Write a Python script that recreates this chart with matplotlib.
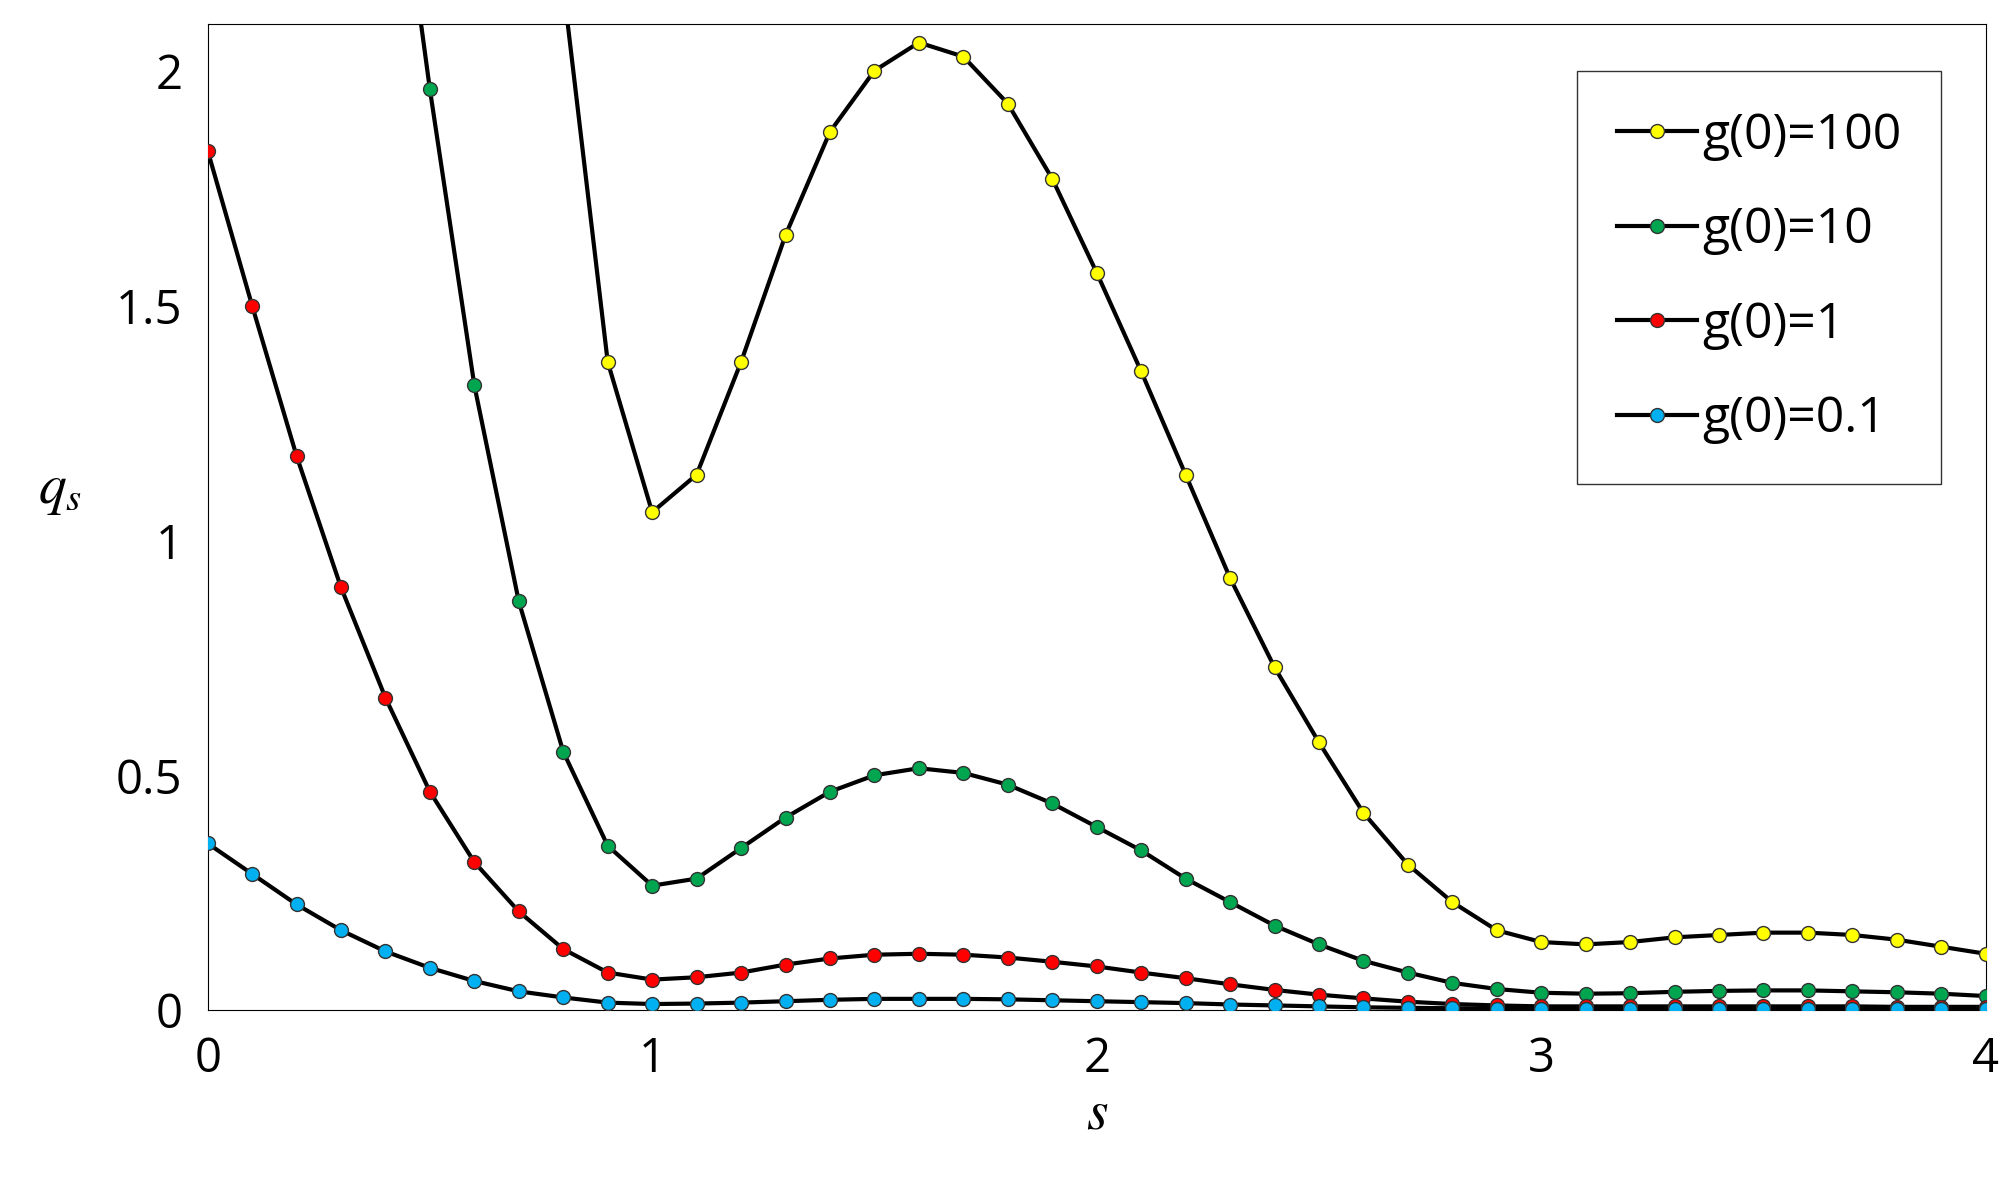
import numpy as np
import matplotlib.pyplot as plt

plt.rcParams['font.family'] = ['Open Sans', 'DejaVu Sans']
plt.rcParams['mathtext.fontset'] = 'stix'

s_all = np.round(np.arange(0, 4.01, 0.1), 1)

# g(0)=100 (starts at s=0.8, earlier values are off the top)
q100 = [2.18, 1.38, 1.06, 1.14, 1.38, 1.65, 1.87, 2.00, 2.06, 2.03, 1.93, 1.77,
        1.57, 1.36, 1.14, 0.92, 0.73, 0.57, 0.42, 0.31, 0.23, 0.17, 0.145, 0.14,
        0.145, 0.155, 0.16, 0.165, 0.165, 0.16, 0.15, 0.135, 0.12]
# g(0)=10 (starts at s=0.4)
q10 = [2.66, 1.96, 1.33, 0.87, 0.55, 0.35, 0.265, 0.28, 0.345, 0.41, 0.465, 0.50,
       0.515, 0.505, 0.48, 0.44, 0.39, 0.34, 0.28, 0.23, 0.18, 0.14, 0.105, 0.08,
       0.058, 0.045, 0.037, 0.035, 0.036, 0.039, 0.041, 0.042, 0.042, 0.04,
       0.038, 0.035, 0.03]
q1 = [1.83, 1.50, 1.18, 0.90, 0.665, 0.465, 0.315, 0.21, 0.13, 0.08, 0.065, 0.07,
      0.08, 0.097, 0.11, 0.118, 0.12, 0.118, 0.112, 0.103, 0.093, 0.08, 0.068,
      0.055, 0.043, 0.033, 0.025, 0.018, 0.013, 0.01, 0.008, 0.008, 0.008, 0.008,
      0.008, 0.008, 0.008, 0.008, 0.007, 0.007, 0.007]
q01 = [0.355, 0.29, 0.225, 0.17, 0.125, 0.09, 0.062, 0.04, 0.027, 0.016, 0.013,
       0.014, 0.016, 0.019, 0.022, 0.024, 0.024, 0.024, 0.023, 0.021, 0.019, 0.017,
       0.015, 0.012, 0.01, 0.008, 0.006, 0.005, 0.004, 0.003, 0.003, 0.003, 0.003,
       0.003, 0.003, 0.003, 0.003, 0.003, 0.003, 0.003, 0.003]

series = [('g(0)=100', q100, '#ffff00'), ('g(0)=10', q10, '#00a550'),
          ('g(0)=1', q1, '#ff0000'), ('g(0)=0.1', q01, '#00b0f0')]

fig = plt.figure(figsize=(20.16, 11.87), dpi=100)
ax = fig.add_axes([0.103, 0.149, 0.882, 0.831])
for label, q, c in series:
    s = s_all[len(s_all) - len(q):]
    ax.plot(s, q, color='black', lw=3, zorder=2)
    ax.plot(s, q, ls='none', marker='o', ms=10, mfc=c, mec='#333333', mew=1, zorder=3)
    ax.plot([], [], color='black', lw=3, marker='o', ms=10, mfc=c, mec='#333333',
            mew=1, label=label)

ax.set_xlim(0, 4)
ax.set_ylim(0, 2.1)
ax.set_xticks([0, 1, 2, 3, 4])
ax.set_yticks([0, 0.5, 1, 1.5, 2], ['0', '0.5', '1', '1.5', '2'])
ax.tick_params(length=0, labelsize=34, pad=18)
ax.set_xlabel('$s$', fontsize=40, labelpad=2)
ax.set_ylabel('$q_s$', fontsize=40, rotation=0, labelpad=40)
leg = ax.legend(loc='upper right', fontsize=36, frameon=True, fancybox=False,
                edgecolor='black', borderpad=0.8, labelspacing=0.9,
                handlelength=1.6, handletextpad=0.1, borderaxespad=0,
                bbox_to_anchor=(0.975, 0.952))
leg.get_frame().set_linewidth(1)
fig.savefig('out.png')
